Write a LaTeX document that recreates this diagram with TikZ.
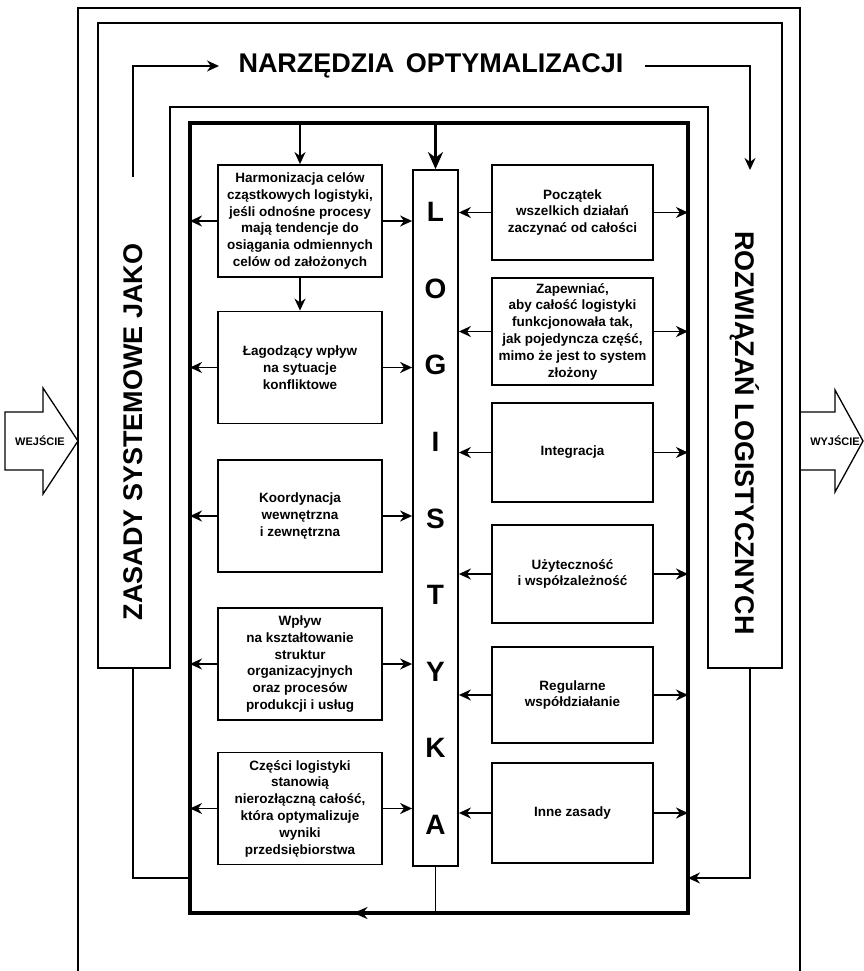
\documentclass[tikz,border=0pt]{standalone}
\usepackage{fontspec}
\setmainfont{Liberation Sans}
\usetikzlibrary{positioning, arrows.meta}

\begin{document}
\begin{tikzpicture}[x=1pt, y=-1pt, font=\bfseries,
  box/.style={draw, line width=1.8pt, align=center, inner sep=2pt,
    font=\fontsize{13.5}{16.8}\selectfont\bfseries},
  lbox/.style={box, minimum width=164pt, minimum height=112pt},
  rbox/.style={box, minimum width=161pt},
  arr/.style={line width=1.8pt, -{Stealth[length=12pt,width=11pt]}},
  big/.style={font=\fontsize{27}{30}\selectfont\bfseries},
  letter/.style={font=\fontsize{28}{30}\selectfont\bfseries},
  io/.style={font=\fontsize{11}{12}\selectfont\bfseries}]
  \useasboundingbox (0,0) rectangle (864,971);

  % frames
  \draw[line width=1.8pt] (78,975) -- (78,8) -- (800,8) -- (800,975);
  \draw[line width=1.8pt] (98,668) -- (98,23) -- (782,23) -- (782,668) -- (708,668)
    -- (708,107) -- (170,107) -- (170,668) -- cycle;
  \node[draw, line width=3.8pt, minimum width=498pt, minimum height=790pt, outer sep=0pt] (core) at (439,518) {};

  % input / output
  \draw[line width=1.3pt] (5,412) -- (43,412) -- (43,388) -- (78,441) -- (43,494) -- (43,470) -- (5,470) -- cycle;
  \node[io] (wej) at (40,441) {WEJŚCIE};
  \draw[line width=1.3pt] (800,412) -- (835,412) -- (835,390) -- (863,441) -- (835,492) -- (835,470) -- (800,470);
  \node[io] (wyj) at (835,441) {WYJŚCIE};

  % band
  \node[big] (narz) at (431,66) {NARZĘDZIA\hspace{4pt} OPTYMALIZACJI};
  \node[big, rotate=90] (zasady) at (133,432) {ZASADY SYSTEMOWE JAKO};
  \node[big, rotate=-90] (rozw) at (745,433) {ROZWIĄZAŃ LOGISTYCZNYCH};
  \coordinate (zasadytop) at (133,177);
  \coordinate (rozwtop) at (750,170);
  \coordinate (zasadybot) at (133,668);
  \coordinate (rozwbot) at (750,668);
  \draw[arr] (zasadytop) |- ([xshift=-16pt]narz.west);
  \draw[arr] ([xshift=18pt]narz.east) -| (rozwtop);

  % logistyka
  \node[draw, line width=1.8pt, minimum width=45pt, minimum height=696pt] (logi) at (435.5,518) {};
  \foreach \ch [count=\i from 0] in {L,O,G,I,S,T,Y,K,A}
    \node[letter] (ch\i) at (435.5,{212+76.6*\i}) {\ch};

  % left column
  \node[lbox] (l1) at (300,221) {Harmonizacja celów\\cząstkowych logistyki,\\jeśli odnośne procesy\\mają tendencje do\\osiągania odmiennych\\celów od założonych};
  \node[lbox] (l2) at (300,367.5) {Łagodzący wpływ\\na sytuacje\\konfliktowe};
  \node[lbox] (l3) at (300,516) {Koordynacja\\wewnętrzna\\i zewnętrzna};
  \node[lbox] (l4) at (300,664) {Wpływ\\na kształtowanie\\struktur\\organizacyjnych\\oraz procesów\\produkcji i usług};
  \node[lbox] (l5) at (300,808.5) {Części logistyki\\stanowią\\nierozłączną całość,\\która optymalizuje\\wyniki\\przedsiębiorstwa};

  % right column
  \node[rbox, minimum height=95pt] (r1) at (572.5,212.5) {Początek\\wszelkich działań\\zaczynać od całości};
  \node[rbox, minimum height=107pt] (r2) at (572.5,331.5) {Zapewniać,\\aby całość logistyki\\funkcjonowała tak,\\jak pojedyncza część,\\mimo że jest to system\\złożony};
  \node[rbox, minimum height=99pt] (r3) at (572.5,452.5) {Integracja};
  \node[rbox, minimum height=98pt] (r4) at (572.5,574) {Użyteczność\\i współzależność};
  \node[rbox, minimum height=96pt] (r5) at (572.5,695) {Regularne\\współdziałanie};
  \node[rbox, minimum height=100pt] (r6) at (572.5,813) {Inne zasady};

  \foreach \b in {l1,l2,l3,l4,l5} {
    \draw[arr] (\b.west) -- (\b.west -| core.west);
    \draw[arr] (\b.east) -- (\b.east -| logi.west);
  }
  \foreach \b in {r1,r2,r3,r4,r5,r6} {
    \draw[arr] (\b.west) -- (\b.west -| logi.east);
    \draw[arr] (\b.east) -- (\b.east -| core.east);
  }
  \draw[arr] (l1.south) -- (l2.north);
  \draw[arr] (l1.north |- core.north) -- (l1.north);
  \draw[line width=3pt, -{Stealth[length=17pt,width=15pt]}] (logi.north |- core.north) -- (logi.north);

  % feedback
  \draw[line width=1.8pt] (logi.south) -- (logi.south |- core.south);
  \draw[line width=3.8pt, -{Stealth[length=14pt,width=12pt]}] ([xshift=-40pt]logi.south |- core.south) -- ++(-42,0);
  \draw[line width=1.8pt] (core.west |- 0,878) -| (zasadybot);
  \draw[arr] (rozwbot) |- (core.east |- 0,878);
\end{tikzpicture}
\end{document}
